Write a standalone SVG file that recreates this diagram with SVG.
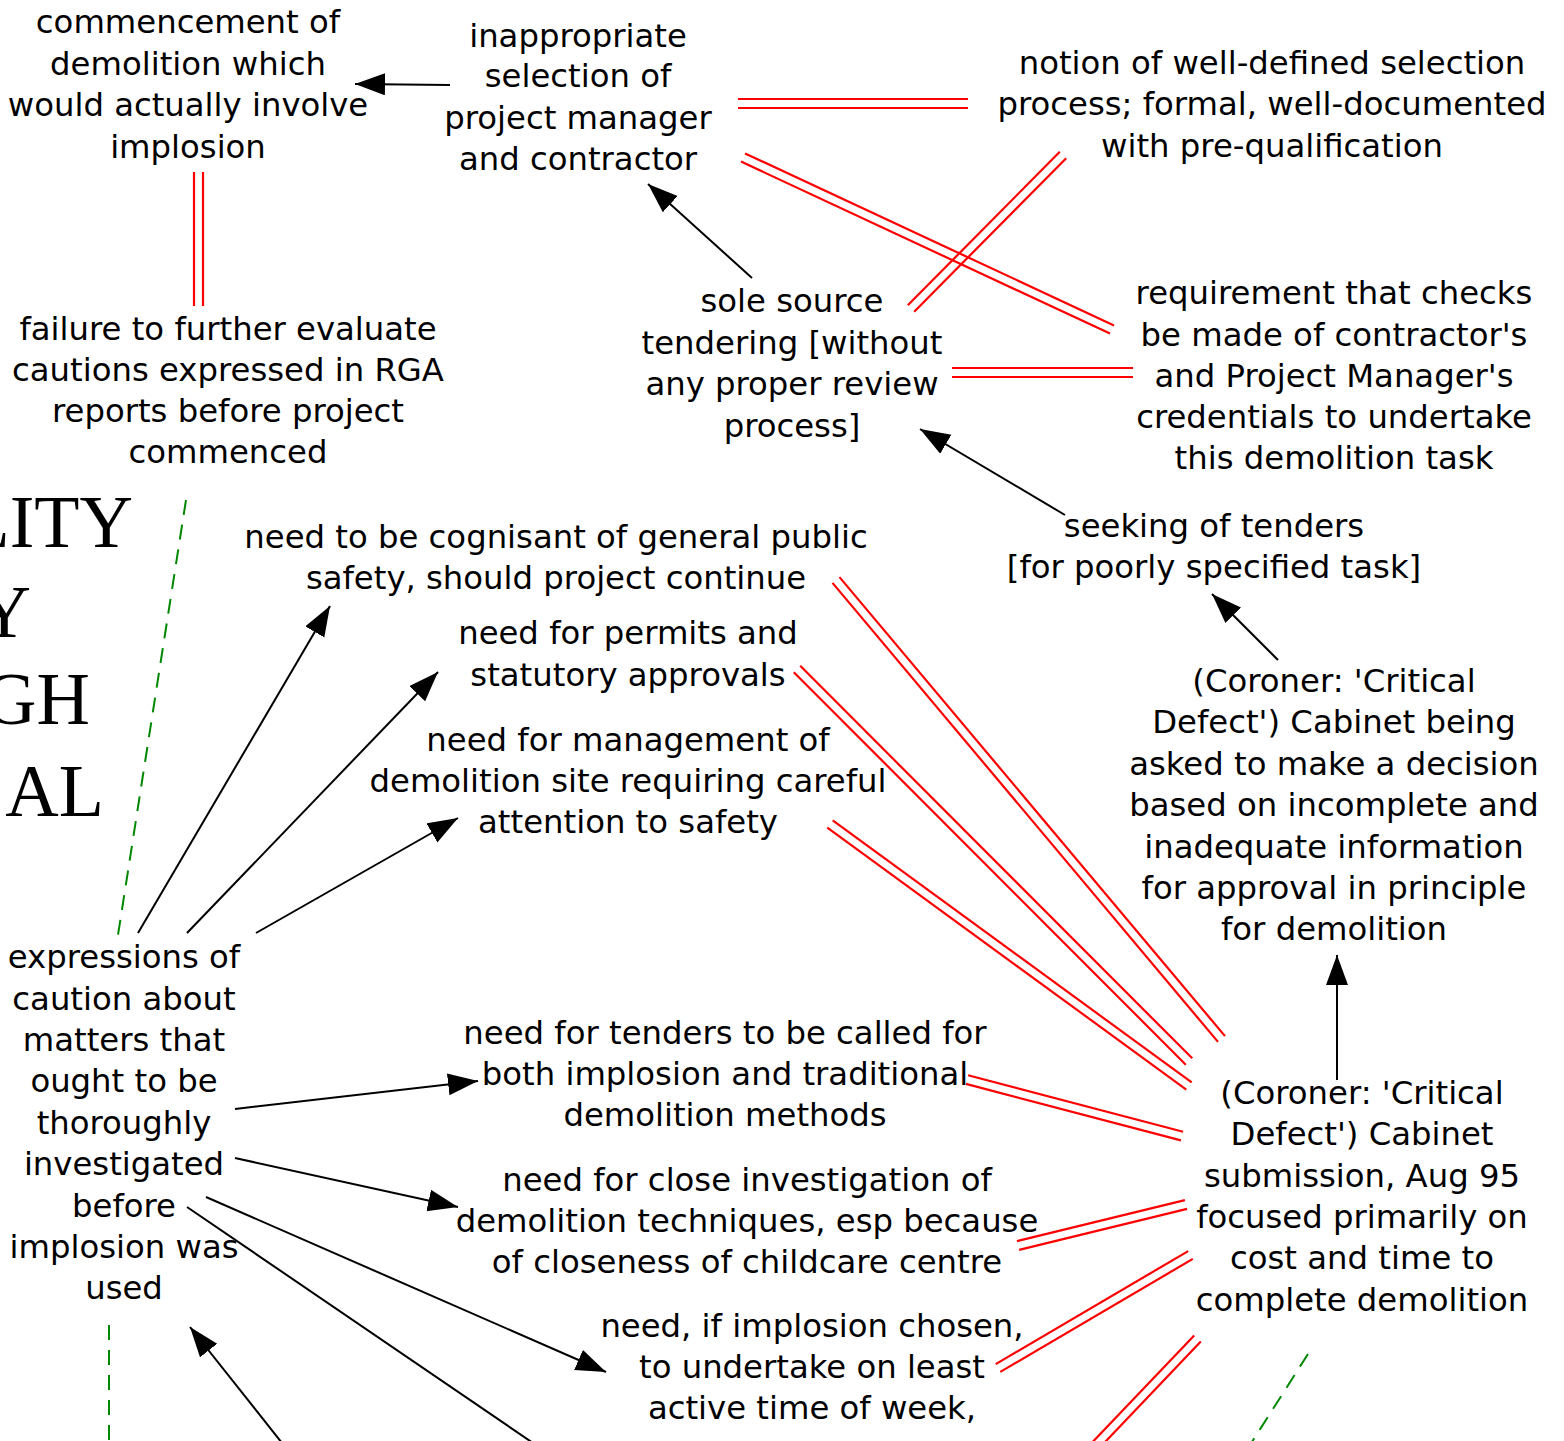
<svg xmlns="http://www.w3.org/2000/svg" width="1564" height="1441" viewBox="0 0 1564 1441">
<style>
.t{font-family:"DejaVu Sans",sans-serif;font-size:32.3px;fill:#000;text-anchor:middle}
.big{font-family:"Liberation Serif",serif;font-size:74px;fill:#000;text-anchor:end}
.a{stroke:#000;stroke-width:2;fill:none;marker-end:url(#ah)}
.l{stroke:#000;stroke-width:2;fill:none}
.r{stroke:#f00;stroke-width:2.2;fill:none}
.g{stroke:#080;stroke-width:2;fill:none;stroke-dasharray:15 10}
</style>
<defs>
<marker id="ah" markerUnits="userSpaceOnUse" markerWidth="32" markerHeight="24" refX="30" refY="11" orient="auto">
<path d="M0,0 L30,11 L0,22 z" fill="#000"/>
</marker>
</defs>
<rect width="1564" height="1441" fill="#fff"/>
<g id="title">
<text class="big" x="133" y="547">LITY</text>
<text class="big" x="31" y="637">Y</text>
<text class="big" x="90" y="724">GH</text>
<text class="big" x="104" y="816">AL</text>
</g>
<g id="connectors">
<line class="a" x1="450" y1="85" x2="355" y2="84"/>
<line class="a" x1="752" y1="278" x2="648" y2="184"/>
<line class="a" x1="1065" y1="515" x2="920" y2="429"/>
<line class="a" x1="1278" y1="660" x2="1212" y2="594"/>
<line class="a" x1="1337" y1="1080" x2="1337" y2="955"/>
<line class="a" x1="138" y1="933" x2="330" y2="606"/>
<line class="a" x1="187" y1="933" x2="438" y2="672"/>
<line class="a" x1="256" y1="933" x2="458" y2="818"/>
<line class="a" x1="235" y1="1109" x2="478" y2="1081"/>
<line class="a" x1="235" y1="1158" x2="458" y2="1207"/>
<line class="a" x1="206" y1="1197" x2="606" y2="1372"/>
<line class="l" x1="187" y1="1207" x2="533" y2="1443"/>
<line class="a" x1="282" y1="1443" x2="190" y2="1327"/>
<line class="r" x1="738" y1="99" x2="968" y2="99"/>
<line class="r" x1="738" y1="108" x2="968" y2="108"/>
<line class="r" x1="745" y1="153.4" x2="1114" y2="325.4"/>
<line class="r" x1="741" y1="161.6" x2="1110" y2="333.6"/>
<line class="r" x1="907.8" y1="305.3" x2="1059.8" y2="151.8"/>
<line class="r" x1="914.2" y1="311.7" x2="1066.2" y2="158.2"/>
<line class="r" x1="952" y1="368" x2="1133" y2="368"/>
<line class="r" x1="952" y1="377" x2="1133" y2="377"/>
<line class="r" x1="194" y1="172" x2="194" y2="306"/>
<line class="r" x1="203" y1="172" x2="203" y2="306"/>
<line class="r" x1="839.5" y1="577.1" x2="1225" y2="1036.1"/>
<line class="r" x1="832.5" y1="582.9" x2="1218" y2="1041.9"/>
<line class="r" x1="800.2" y1="665.8" x2="1192.2" y2="1058.3"/>
<line class="r" x1="793.8" y1="672.2" x2="1185.8" y2="1064.7"/>
<line class="r" x1="832.7" y1="820.4" x2="1191.7" y2="1082.4"/>
<line class="r" x1="827.3" y1="827.6" x2="1186.3" y2="1089.6"/>
<line class="r" x1="968.1" y1="1075.2" x2="1183.1" y2="1131.7"/>
<line class="r" x1="965.9" y1="1083.9" x2="1180.9" y2="1140.4"/>
<line class="r" x1="1016.9" y1="1241.1" x2="1184.9" y2="1200.1"/>
<line class="r" x1="1019.1" y1="1249.9" x2="1187.1" y2="1208.9"/>
<line class="r" x1="995.7" y1="1364.1" x2="1188.2" y2="1251.1"/>
<line class="r" x1="1000.3" y1="1371.9" x2="1192.8" y2="1258.9"/>
<line class="r" x1="1092.7" y1="1441.9" x2="1194.2" y2="1335.4"/>
<line class="r" x1="1099.3" y1="1448.1" x2="1200.8" y2="1341.6"/>
<line class="g" x1="186" y1="500" x2="118" y2="935"/>
<line class="g" x1="109" y1="1325" x2="109" y2="1441"/>
<line class="g" x1="1308" y1="1354" x2="1250" y2="1445"/>
</g>
<g id="nA"><text class="t"><tspan x="188" y="33">commencement of</tspan><tspan x="188" y="75">demolition which</tspan><tspan x="188" y="116">would actually involve</tspan><tspan x="188" y="158">implosion</tspan></text></g>
<g id="nB"><text class="t"><tspan x="578" y="47">inappropriate</tspan><tspan x="578" y="87">selection of</tspan><tspan x="578" y="129">project manager</tspan><tspan x="578" y="170">and contractor</tspan></text></g>
<g id="nC"><text class="t"><tspan x="1272" y="74">notion of well-defined selection</tspan><tspan x="1272" y="115">process; formal, well-documented</tspan><tspan x="1272" y="157">with pre-qualification</tspan></text></g>
<g id="nD"><text class="t"><tspan x="792" y="312">sole source</tspan><tspan x="792" y="354">tendering [without</tspan><tspan x="792" y="395">any proper review</tspan><tspan x="792" y="437">process]</tspan></text></g>
<g id="nE"><text class="t"><tspan x="228" y="340">failure to further evaluate</tspan><tspan x="228" y="381">cautions expressed in RGA</tspan><tspan x="228" y="422">reports before project</tspan><tspan x="228" y="463">commenced</tspan></text></g>
<g id="nF"><text class="t"><tspan x="1334" y="304">requirement that checks</tspan><tspan x="1334" y="346">be made of contractor's</tspan><tspan x="1334" y="387">and Project Manager's</tspan><tspan x="1334" y="428">credentials to undertake</tspan><tspan x="1334" y="469">this demolition task</tspan></text></g>
<g id="nG"><text class="t"><tspan x="1214" y="537">seeking of tenders</tspan><tspan x="1214" y="578">[for poorly specified task]</tspan></text></g>
<g id="nH"><text class="t"><tspan x="556" y="548">need to be cognisant of general public</tspan><tspan x="556" y="589">safety, should project continue</tspan></text></g>
<g id="nI"><text class="t"><tspan x="628" y="644">need for permits and</tspan><tspan x="628" y="686">statutory approvals</tspan></text></g>
<g id="nJ"><text class="t"><tspan x="628" y="751">need for management of</tspan><tspan x="628" y="792">demolition site requiring careful</tspan><tspan x="628" y="833">attention to safety</tspan></text></g>
<g id="nK"><text class="t"><tspan x="1334" y="692">(Coroner: 'Critical</tspan><tspan x="1334" y="733">Defect') Cabinet being</tspan><tspan x="1334" y="775">asked to make a decision</tspan><tspan x="1334" y="816">based on incomplete and</tspan><tspan x="1334" y="858">inadequate information</tspan><tspan x="1334" y="899">for approval in principle</tspan><tspan x="1334" y="940">for demolition</tspan></text></g>
<g id="nL"><text class="t"><tspan x="124" y="968">expressions of</tspan><tspan x="124" y="1010">caution about</tspan><tspan x="124" y="1051">matters that</tspan><tspan x="124" y="1092">ought to be</tspan><tspan x="124" y="1134">thoroughly</tspan><tspan x="124" y="1175">investigated</tspan><tspan x="124" y="1217">before</tspan><tspan x="124" y="1258">implosion was</tspan><tspan x="124" y="1299">used</tspan></text></g>
<g id="nM"><text class="t"><tspan x="725" y="1044">need for tenders to be called for</tspan><tspan x="725" y="1085">both implosion and traditional</tspan><tspan x="725" y="1126">demolition methods</tspan></text></g>
<g id="nN"><text class="t"><tspan x="1362" y="1104">(Coroner: 'Critical</tspan><tspan x="1362" y="1145">Defect') Cabinet</tspan><tspan x="1362" y="1187">submission, Aug 95</tspan><tspan x="1362" y="1228">focused primarily on</tspan><tspan x="1362" y="1269">cost and time to</tspan><tspan x="1362" y="1311">complete demolition</tspan></text></g>
<g id="nO"><text class="t"><tspan x="747" y="1191">need for close investigation of</tspan><tspan x="747" y="1232">demolition techniques, esp because</tspan><tspan x="747" y="1273">of closeness of childcare centre</tspan></text></g>
<g id="nP"><text class="t"><tspan x="812" y="1337">need, if implosion chosen,</tspan><tspan x="812" y="1378">to undertake on least</tspan><tspan x="812" y="1419">active time of week,</tspan></text></g>
</svg>
